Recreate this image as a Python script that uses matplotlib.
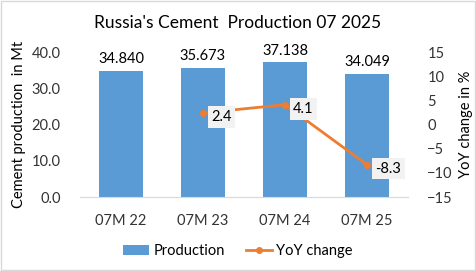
import numpy as np
import matplotlib.pyplot as plt

categories = ['07M 22', '07M 23', '07M 24', '07M 25']
production = [34.840, 35.673, 37.138, 34.049]
yoy = [np.nan, 2.4, 4.1, -8.3]

plt.rcParams['font.family'] = ['Lato', 'DejaVu Sans']

bar_c = '#5B9BD5'
line_c = '#ED7D31'

fig = plt.figure(figsize=(4.76, 2.71), dpi=100)
ax = fig.add_axes([0.168, 0.273, 0.689, 0.535])
ax2 = ax.twinx()

x = np.arange(len(categories))
bars = ax.bar(x, production, width=0.53, color=bar_c, label='Production', zorder=2)
for xi, v in zip(x, production):
    ax.text(xi, v + 1.2, f'{v:.3f}', ha='center', va='bottom', fontsize=10.5)

ax.set_ylim(0, 40)
ax.set_yticks(np.arange(0, 41, 10))
ax.set_yticklabels([f'{t:.1f}' for t in np.arange(0, 41, 10)])
ax.set_xlim(-0.5, 3.5)
ax.set_xticks(x)
ax.set_xticklabels(categories)
ax.set_ylabel('Cement production  in Mt', fontsize=10.5)

line, = ax2.plot(x, yoy, color=line_c, lw=2, marker='o', ms=4, label='YoY change', zorder=3)
for xi, v in zip(x, yoy):
    if not np.isnan(v):
        ax2.annotate(f'{v:.1f}', (xi, v), xytext=(6, -3), textcoords='offset points',
                     ha='left', va='center', fontsize=10.5,
                     bbox=dict(boxstyle='square,pad=0.25', fc='#F2F2F2', ec='none'))
ax2.set_ylim(-15, 15)
ax2.set_yticks(np.arange(-15, 16, 5))
ax2.set_ylabel('YoY change in %', fontsize=10.5)

for a in (ax, ax2):
    for s in a.spines.values():
        s.set_visible(False)
    a.tick_params(length=0, labelsize=10.5, colors='#333333')
ax.spines['bottom'].set_visible(True)
ax.spines['bottom'].set_color('#D9D9D9')
ax.tick_params(axis='x', pad=12)
ax.tick_params(axis='y', pad=14)
ax2.tick_params(axis='y', pad=14)

fig.suptitle("Russia's Cement  Production 07 2025", y=0.945, fontsize=12.5)
fig.legend(handles=[bars, line], loc='lower center', bbox_to_anchor=(0.5, 0.0),
           ncol=2, frameon=False, fontsize=10.5, handlelength=1.8, handletextpad=0.3,
           columnspacing=1.4)

fig.patches.append(plt.Rectangle((0.002, 0.004), 0.996, 0.992, transform=fig.transFigure,
                                 fill=False, ec='#D9D9D9', lw=1))
fig.savefig('out.png', dpi=100)
